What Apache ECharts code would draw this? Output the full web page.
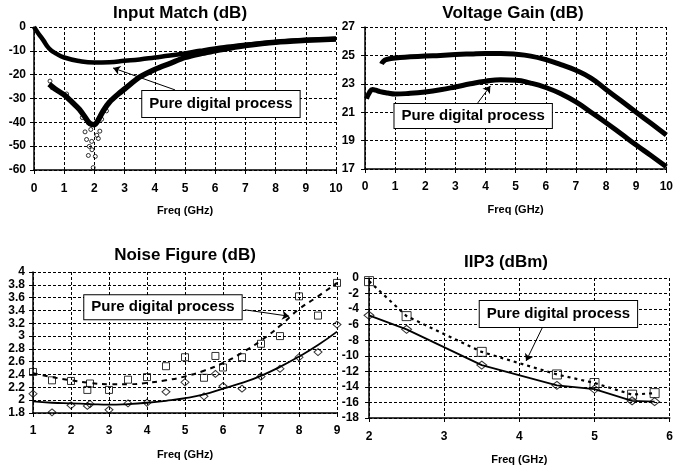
<!DOCTYPE html>
<html><head><meta charset="utf-8">
<script src="https://cdn.jsdelivr.net/npm/echarts@6/dist/echarts.min.js"></script>
<style>html,body{margin:0;padding:0;background:#fff}#c{width:676px;height:469px}</style>
</head><body><div id="c"></div>
<script>
// ---- Input Match (dB) ----
const imFreqA = [0,0.15,0.3,0.5,0.75,1,1.5,2,2.5,3,3.5,4,4.5,5,5.5,6,6.5,7,8,9,10];
const imA = [0,-2.8,-5.4,-9,-11.3,-12.8,-14.3,-14.9,-14.8,-14.2,-13.6,-12.8,-12,-11.1,-10,-9,-8.2,-7.4,-6.3,-5.5,-5];
const imFreqB = [0.5,0.7,1,1.3,1.5,1.7,1.85,2,2.15,2.3,2.5,2.8,3,3.5,4,4.5,5,5.5,6,6.5,7,8,9,10];
const imB = [-24,-26,-28.5,-32,-34.5,-38,-40.5,-41,-38.5,-35,-31.5,-28,-26,-21,-17.8,-15.3,-12.8,-11.2,-10,-8.8,-7.8,-6.4,-5.6,-5];
const imScatFreq = [1.96,2.03,1.8,1.92,1.83,2.13,2.08,1.69,1.74,1.91,2.18,1.8,0.53,1.08,2.4,2.24,0.6,1.6,1.88];
const imScat = [-59,-54.3,-53.9,-51.5,-50.1,-46.8,-45.4,-44,-47.2,-48,-43.7,-40.2,-22.7,-28.1,-35.2,-38.7,-25.5,-38,-43];
// ---- Voltage Gain (dB) ----
const vgFreqA = [0.55,0.6,0.7,1,1.5,2,2.5,3,3.5,4,4.5,5,5.5,6,6.5,7,7.5,8,8.5,9,9.5,10];
const vgA = [24.4,24.55,24.7,24.82,24.9,24.96,25.0,25.06,25.1,25.13,25.13,25.08,24.95,24.7,24.35,23.95,23.4,22.6,21.8,21.0,20.2,19.4];
const vgFreqB = [0.05,0.15,0.25,0.35,0.5,0.75,1,1.5,2,2.5,3,3.5,4,4.5,5,5.5,6,6.5,7,7.5,8,8.5,9,9.5,10];
const vgB = [21.95,22.4,22.6,22.55,22.45,22.35,22.28,22.33,22.43,22.58,22.78,23.0,23.18,23.28,23.25,23.05,22.74,22.3,21.73,21.0,20.26,19.48,18.69,17.93,17.16];
// ---- Noise Figure (dB) ----
const nfFreq = [1,1.5,2,2.43,2.5,3,3.5,4,4.5,5,5.5,5.8,6,6.5,7,7.5,8,8.5,9];
const nfSquare = [2.44,2.31,2.30,2.16,2.26,2.16,2.32,2.36,2.53,2.67,2.35,2.69,2.51,2.67,2.88,3.0,3.62,3.32,3.83];
const nfDiamond = [2.10,1.81,1.92,1.91,1.94,1.85,1.95,1.96,2.13,2.28,2.06,2.41,2.22,2.18,2.37,2.49,2.67,2.75,3.18];
const nfFitFreq = [1,1.5,2,2.5,3,3.5,4,4.5,5,5.5,6,6.5,7,7.5,8,8.5,9];
const nfFitSquare = [2.42,2.36,2.31,2.27,2.25,2.25,2.27,2.31,2.37,2.46,2.58,2.74,2.93,3.16,3.42,3.62,3.83];
const nfFitDiamond = [1.98,1.96,1.95,1.94,1.93,1.94,1.96,1.99,2.03,2.09,2.18,2.27,2.38,2.52,2.68,2.86,3.07];
// ---- IIP3 (dBm) ----
const iipFreq = [2,2.5,3.5,4.5,5,5.5,5.8];
const iipSquare = [-0.4,-4.9,-9.5,-12.4,-13.5,-15.0,-14.8];
const iipDiamond = [-4.8,-6.6,-11.2,-13.8,-14.3,-15.8,-15.9];

const annText = 'Pure digital process';

const F = '"Liberation Sans", Arial, sans-serif';
const zip = (x, y) => x.map((v, i) => [v, y[i]]);

function xAxis(gi, min, max, interval, nameGap, margin) {
  return {
    gridIndex: gi, type: 'value', min, max, interval,
    name: 'Freq (GHz)', nameLocation: 'middle', nameGap,
    nameTextStyle: {fontFamily: F, fontWeight: 'bold', fontSize: 11, color: '#000'},
    axisLine: {show: true, onZero: false, lineStyle: {color: '#000', width: 1.5}},
    axisTick: {show: true, inside: false, length: 4, lineStyle: {color: '#000'}},
    axisLabel: {margin, fontFamily: F, fontWeight: 'bold', fontSize: 12, color: '#000'},
    splitLine: {show: true, lineStyle: {color: '#000', type: [3, 2], width: 1}}
  };
}
function yAxis(gi, min, max, interval, margin) {
  return {
    gridIndex: gi, type: 'value', min, max, interval,
    axisLine: {show: true, onZero: false, lineStyle: {color: '#000', width: 1.5}},
    axisTick: {show: true, inside: false, length: 4, lineStyle: {color: '#000'}},
    axisLabel: {margin, fontFamily: F, fontWeight: 'bold', fontSize: 12, color: '#000'},
    splitLine: {show: true, lineStyle: {color: '#000', type: [3, 2], width: 1}}
  };
}
function annotation(box, padding, from, to) {
  return {
    markPoint: {
      silent: true, animation: false,
      data: [{coord: box, symbol: 'circle', symbolSize: 0,
        label: {show: true, position: 'inside', formatter: annText, color: '#000',
          fontFamily: F, fontWeight: 'bold', fontSize: 15, lineHeight: 17,
          backgroundColor: '#fff', borderColor: '#000', borderWidth: 1, padding}}]
    },
    markLine: {
      silent: true, animation: false, symbol: ['none', 'arrow'], symbolSize: 7,
      label: {show: false},
      lineStyle: {color: '#000', width: 1, type: 'solid'},
      data: [[{coord: from}, {coord: to}]]
    }
  };
}
const hollow = {color: 'rgba(0,0,0,0)', borderColor: '#000', borderWidth: 1};

const chart = echarts.init(document.getElementById('c'), null, {renderer: 'canvas'});
const titleStyle = {fontFamily: F, fontWeight: 'bold', fontSize: 17, fill: '#000'};
chart.setOption({
  animation: false,
  backgroundColor: '#fff',
  graphic: [
    {type: 'text', x: 180, y: 13, style: Object.assign({text: 'Input Match (dB)', align: 'center', verticalAlign: 'middle'}, titleStyle)},
    {type: 'text', x: 513, y: 13, style: Object.assign({text: 'Voltage Gain (dB)', align: 'center', verticalAlign: 'middle'}, titleStyle)},
    {type: 'text', x: 185, y: 255, style: Object.assign({text: 'Noise Figure (dB)', align: 'center', verticalAlign: 'middle'}, titleStyle)},
    {type: 'text', x: 506, y: 262, style: Object.assign({text: 'IIP3 (dBm)', align: 'center', verticalAlign: 'middle'}, titleStyle)}
  ],
  grid: [
    {left: 34, top: 27, width: 302, height: 143},
    {left: 365, top: 27, width: 305, height: 142},
    {left: 33, top: 272, width: 304, height: 141},
    {left: 369, top: 278, width: 305, height: 140}
  ],
  xAxis: [
    xAxis(0, 0, 10, 1, 35, 13),
    xAxis(1, 0, 10, 1, 35, 12),
    xAxis(2, 1, 9, 1, 36, 12),
    xAxis(3, 2, 6, 1, 36, 13)
  ],
  yAxis: [
    yAxis(0, -60, 0, 10, 8),
    yAxis(1, 17, 27, 2, 10),
    yAxis(2, 1.8, 4, 0.2, 8),
    yAxis(3, -18, 0, 2, 10)
  ],
  series: [
    Object.assign({type: 'line', xAxisIndex: 0, yAxisIndex: 0, data: zip(imFreqA, imA), smooth: true,
      showSymbol: false, lineStyle: {color: '#000', width: 4.5}, z: 3},
      annotation([6.19, -32.3], [4, 7, 5, 7], [4.67, -26.4], [2.62, -17.2])),
    {type: 'line', xAxisIndex: 0, yAxisIndex: 0, data: zip(imFreqB, imB), smooth: 0.3,
      showSymbol: false, lineStyle: {color: '#000', width: 5.5}, z: 3},
    {type: 'scatter', xAxisIndex: 0, yAxisIndex: 0, data: zip(imScatFreq, imScat),
      symbol: 'circle', symbolSize: 4, itemStyle: hollow, z: 4},

    Object.assign({type: 'line', xAxisIndex: 1, yAxisIndex: 1, data: zip(vgFreqA, vgA), smooth: true,
      showSymbol: false, lineStyle: {color: '#000', width: 5}, z: 3},
      annotation([3.59, 20.73], [3, 7, 4, 7], [3.74, 21.65], [4.16, 22.85])),
    {type: 'line', xAxisIndex: 1, yAxisIndex: 1, data: zip(vgFreqB, vgB), smooth: true,
      showSymbol: false, lineStyle: {color: '#000', width: 5}, z: 3},

    Object.assign({type: 'line', xAxisIndex: 2, yAxisIndex: 2, data: zip(nfFitFreq, nfFitSquare), smooth: true,
      showSymbol: false, lineStyle: {color: '#000', width: 2, type: [5, 5]}, z: 3},
      annotation([4.42, 3.45], [3, 7, 4, 7], [6.58, 3.41], [7.74, 3.31])),
    {type: 'line', xAxisIndex: 2, yAxisIndex: 2, data: zip(nfFitFreq, nfFitDiamond), smooth: true,
      showSymbol: false, lineStyle: {color: '#000', width: 1.8}, z: 3},
    {type: 'scatter', xAxisIndex: 2, yAxisIndex: 2, data: zip(nfFreq, nfSquare),
      symbol: 'rect', symbolSize: 7, itemStyle: hollow, z: 4},
    {type: 'scatter', xAxisIndex: 2, yAxisIndex: 2, data: zip(nfFreq, nfDiamond),
      symbol: 'diamond', symbolSize: [8, 7], itemStyle: hollow, z: 4},

    Object.assign({type: 'line', xAxisIndex: 3, yAxisIndex: 3, data: zip(iipFreq, iipSquare),
      showSymbol: false, lineStyle: {color: '#000', width: 2.2, type: [3, 4]}, z: 3},
      annotation([4.52, -4.63], [4, 7, 5, 7], [4.31, -6.3], [4.09, -10.67])),
    {type: 'line', xAxisIndex: 3, yAxisIndex: 3, data: zip(iipFreq, iipDiamond),
      showSymbol: false, lineStyle: {color: '#000', width: 1.8}, z: 3},
    {type: 'scatter', xAxisIndex: 3, yAxisIndex: 3, data: zip(iipFreq, iipSquare),
      symbol: 'rect', symbolSize: 9, itemStyle: hollow, z: 4},
    {type: 'scatter', xAxisIndex: 3, yAxisIndex: 3, data: zip(iipFreq, iipDiamond),
      symbol: 'diamond', symbolSize: [10, 8], itemStyle: hollow, z: 4}
  ]
});
</script>
</body></html>
